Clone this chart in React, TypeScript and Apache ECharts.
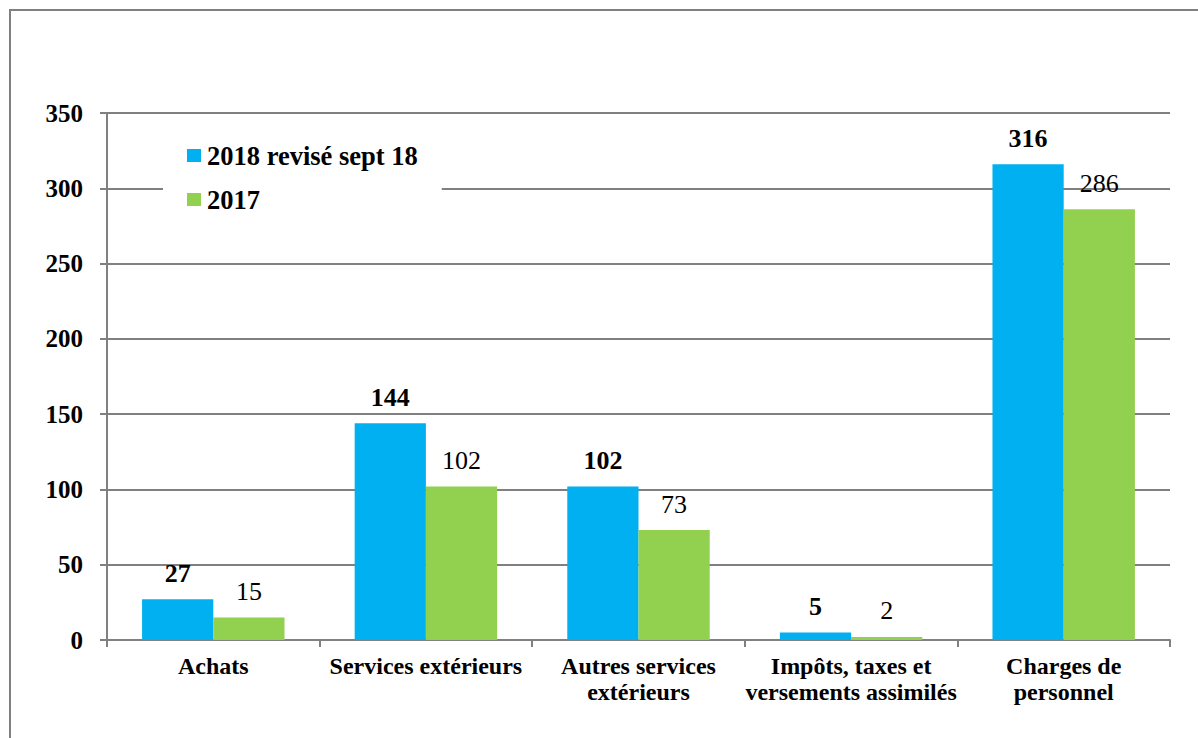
import React, { useEffect, useRef } from "react";
import * as echarts from "echarts";

const categories = [
  "Achats",
  "Services extérieurs",
  "Autres services\nextérieurs",
  "Impôts, taxes et\nversements assimilés",
  "Charges de\npersonnel",
];
const series2018 = [27, 144, 102, 5, 316];
const series2017 = [15, 102, 73, 2, 286];
const seriesNames = ["2018 revisé sept 18", "2017"];

const FONT = "Times New Roman, Liberation Serif, serif";

export default function App() {
  const ref = useRef<HTMLDivElement>(null);
  useEffect(() => {
    const chart = echarts.init(ref.current!, null, { renderer: "svg" });
    chart.setOption({
      animation: false,
      backgroundColor: "#fff",
      textStyle: { fontFamily: FONT, color: "#000" },
      graphic: [
        {
          type: "rect",
          shape: { x: 10, y: 10, width: 1200, height: 740 },
          style: { fill: "none", stroke: "#808080", lineWidth: 2 },
          silent: true,
        },
      ],
      grid: { left: 107, right: 28, top: 113, bottom: 98, containLabel: false },
      legend: {
        orient: "vertical",
        left: 163,
        top: 130,
        data: seriesNames,
        backgroundColor: "#fff",
        padding: [12, 24, 12, 24],
        itemWidth: 14,
        itemHeight: 13,
        itemGap: 17,
        icon: "rect",
        textStyle: { fontFamily: FONT, fontSize: 26.5, fontWeight: "bold", color: "#000", padding: [0, 0, 0, 1] },
        z: 10,
      },
      xAxis: {
        type: "category",
        data: categories,
        axisLine: { lineStyle: { color: "#808080", width: 2 } },
        axisTick: { show: true, length: 7, lineStyle: { color: "#808080", width: 2 } },
        axisLabel: {
          fontFamily: FONT,
          fontSize: 24,
          fontWeight: "bold",
          color: "#000",
          margin: 13,
          lineHeight: 26,
          interval: 0,
        },
      },
      yAxis: {
        type: "value",
        min: 0,
        max: 350,
        interval: 50,
        axisLine: { show: true, lineStyle: { color: "#808080", width: 2 } },
        axisTick: { show: true, length: 7, lineStyle: { color: "#808080", width: 2 } },
        splitLine: { show: true, lineStyle: { color: "#808080", width: 2 } },
        axisLabel: {
          fontFamily: FONT,
          fontSize: 25,
          fontWeight: "bold",
          color: "#000",
          margin: 24,
        },
      },
      series: [
        {
          name: seriesNames[0],
          type: "bar",
          data: series2018,
          barGap: "0%",
          barCategoryGap: "33%",
          itemStyle: { color: "#00B0F0" },
          label: {
            show: true,
            position: "top",
            distance: 13,
            fontFamily: FONT,
            fontSize: 26,
            fontWeight: "bold",
            color: "#000",
          },
        },
        {
          name: seriesNames[1],
          type: "bar",
          data: series2017,
          barGap: "0%",
          barCategoryGap: "33%",
          itemStyle: { color: "#92D050" },
          label: {
            show: true,
            position: "top",
            distance: 13,
            fontFamily: FONT,
            fontSize: 26,
            color: "#000",
          },
        },
      ],
    });
    return () => chart.dispose();
  }, []);
  return (
    <div
      ref={ref}
      style={{ position: "fixed", left: 0, top: 0, width: 1198, height: 738 }}
    />
  );
}
